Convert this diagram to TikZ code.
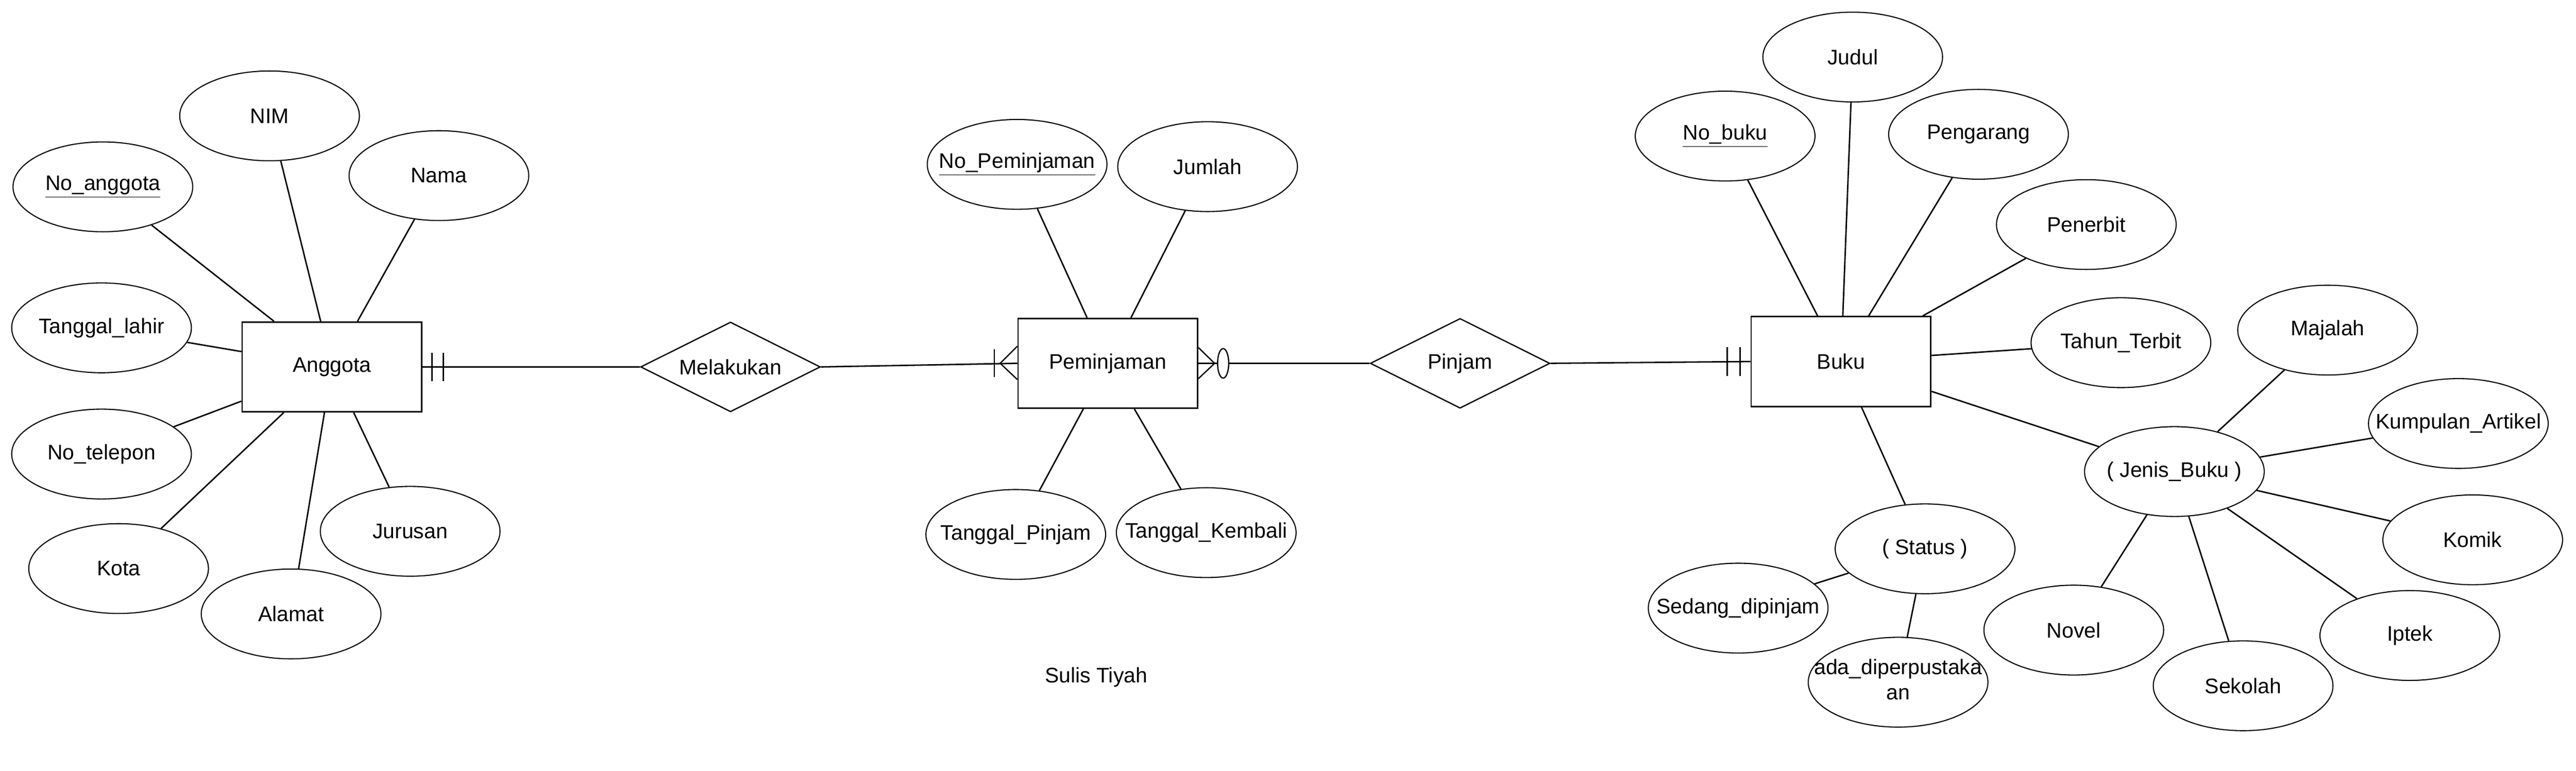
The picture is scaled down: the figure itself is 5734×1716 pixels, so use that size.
\documentclass[tikz,border=0pt]{standalone}
\usepackage{fontspec}
\setmainfont{Liberation Sans}
\usetikzlibrary{shapes.geometric,calc}
\newcommand\zw[1]{\makebox[0pt][c]{#1}}
\begin{document}
\begin{tikzpicture}[x=0.25pt,y=-0.25pt,
  every node/.style={font=\fontsize{11.75}{14}\selectfont, inner sep=0pt},
  attr/.style={ellipse, draw, line width=0.6pt, minimum width=100pt, minimum height=50pt, fill=white},
  ent/.style={rectangle, draw, line width=0.8pt, minimum width=100pt, minimum height=50pt, fill=white},
  rel/.style={diamond, draw, line width=0.7pt, minimum width=100pt, minimum height=50pt, aspect=2, fill=white},
  conn/.style={line width=0.8pt},
  crowmark/.style={line width=0.7pt}
]
\useasboundingbox (0,0) rectangle (5734,1716);

% ---------- entities and relationships ----------
\node[ent] (anggota) at (739,817) {Anggota};
\node[rel] (melakukan) at (1626,817) {Melakukan};
\node[ent] (peminjaman) at (2466,809) {Peminjaman};
\node[rel] (pinjam) at (3250,809) {Pinjam};
\node[ent] (buku) at (4098,805) {Buku};

% ---------- Anggota attributes ----------
\node[attr] (noanggota) at (229,416) {\zw{\underline{No\_anggota}}};
\node[attr] (nim) at (600,258) {\zw{NIM}};
\node[attr] (nama) at (977,391) {\zw{Nama}};
\node[attr] (tgllahir) at (226,730) {\zw{Tanggal\_lahir}};
\node[attr] (notelp) at (226,1011) {\zw{No\_telepon}};
\node[attr] (kota) at (264,1266) {\zw{Kota}};
\node[attr] (alamat) at (648,1367) {\zw{Alamat}};
\node[attr] (jurusan) at (913,1183) {\zw{Jurusan}};

% ---------- Peminjaman attributes ----------
\node[attr] (nopem) at (2264,366) {\zw{\underline{No\_Peminjaman}}};
\node[attr] (jumlah) at (2688,371) {\zw{Jumlah}};
\node[attr] (tglpinjam) at (2261,1190) {\zw{Tanggal\_Pinjam}};
\node[attr] (tglkembali) at (2685,1186) {\zw{Tanggal\_Kembali}};

% ---------- Buku attributes ----------
\node[attr] (nobuku) at (3840,303) {\zw{\underline{No\_buku}}};
\node[attr] (judul) at (4124,127) {\zw{Judul}};
\node[attr] (pengarang) at (4404,299) {\zw{Pengarang}};
\node[attr] (penerbit) at (4644,500) {\zw{Penerbit}};
\node[attr] (tahun) at (4721,763) {\zw{Tahun\_Terbit}};
\node[attr] (status) at (4285,1222) {\zw{( Status )}};
\node[attr] (sedang) at (3869,1354) {\zw{Sedang\_dipinjam}};
\node[attr] (ada) at (4225,1519) {\zw{\begin{tabular}{@{}c@{}}ada\_diperpustaka\\an\end{tabular}}};
\node[attr] (jenis) at (4840,1050) {\zw{( Jenis\_Buku )}};
\node[attr] (majalah) at (5181,735) {\zw{Majalah}};
\node[attr] (kumpulan) at (5472,943) {\zw{Kumpulan\_Artikel}};
\node[attr] (komik) at (5504,1202) {\zw{Komik}};
\node[attr] (iptek) at (5364,1415) {\zw{Iptek}};
\node[attr] (sekolah) at (4993,1527) {\zw{Sekolah}};
\node[attr] (novel) at (4616,1403) {\zw{Novel}};

\node (sulis) at (2440,1508) {Sulis Tiyah};

% ---------- attribute connectors ----------
\foreach \a in {noanggota,nim,nama,tgllahir,notelp,kota,alamat,jurusan}
  \draw[conn] (\a) -- (anggota);
\foreach \a in {nopem,jumlah,tglpinjam,tglkembali}
  \draw[conn] (\a) -- (peminjaman);
\foreach \a in {nobuku,judul,pengarang,penerbit,tahun,status,jenis}
  \draw[conn] (\a) -- (buku);
\foreach \a in {sedang,ada}
  \draw[conn] (\a) -- (status);
\foreach \a in {majalah,kumpulan,komik,iptek,sekolah,novel}
  \draw[conn] (\a) -- (jenis);

% ---------- relationship connectors ----------
\draw[conn] (anggota.east) -- (melakukan.west);
\draw[crowmark] ($(anggota.east)+(21,-32)$) -- ++(0,64);
\draw[crowmark] ($(anggota.east)+(46,-32)$) -- ++(0,64);

\draw[conn] (melakukan.east) -- (peminjaman.west);
\draw[crowmark] ($(peminjaman.west)+(-51,-31)$) -- ++(0,62);
\draw[crowmark] ($(peminjaman.west)+(0,-38)$) -- ($(peminjaman.west)+(-38,0)$) -- ($(peminjaman.west)+(0,36)$);

\draw[conn] (peminjaman.east) -- (pinjam.west);
\draw[crowmark] ($(peminjaman.east)+(0,-35)$) -- ($(peminjaman.east)+(36,0)$) -- ($(peminjaman.east)+(0,34)$);
\draw[crowmark, fill=white] ($(peminjaman.east)+(55,0)$) ellipse [x radius=3.1pt, y radius=8.2pt];

\draw[conn] (pinjam.east) -- (buku.west);
\draw[crowmark] ($(buku.west)+(-52,-32)$) -- ++(0,64);
\draw[crowmark] ($(buku.west)+(-23,-32)$) -- ++(0,64);
\end{tikzpicture}
\end{document}
